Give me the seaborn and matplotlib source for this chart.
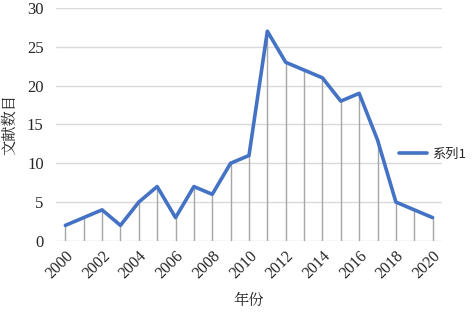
import numpy as np
import pandas as pd
import seaborn as sns
import matplotlib.pyplot as plt

years = list(range(2000, 2021))
counts = [2, 3, 4, 2, 5, 7, 3, 7, 6, 10, 11, 27, 23, 22, 21, 18, 19, 13, 5, 4, 3]
series_name = "系列1"
year_ticks = list(range(2000, 2021, 2))
y_ticks = [0, 5, 10, 15, 20, 25, 30]

df = pd.DataFrame({"年份": years, "文献数目": counts, "系列": series_name})

sns.set_style("white")
plt.rcParams['font.family'] = 'Liberation Serif'

fig = plt.figure(figsize=(4.72, 3.17), dpi=100)
ax = fig.add_axes([0.119, 0.24, 0.817, 0.735])

# drop lines from each point
ax.vlines(df["年份"], 0, df["文献数目"], color="#A6A6A6", linewidth=1.0, zorder=2)
sns.lineplot(data=df, x="年份", y="文献数目", hue="系列", palette=["#4472C4"],
             linewidth=2.6, ax=ax, zorder=3, legend=False)

ax.set_xlim(1999.5, 2020.5)
ax.set_ylim(0, 30)
ax.set_yticks(y_ticks)
ax.set_yticklabels([str(v) for v in y_ticks], fontsize=12)
ax.set_xticks(year_ticks)
ax.set_xticklabels([str(y) for y in year_ticks], rotation=45, ha="right",
                   rotation_mode="anchor", fontsize=11.5)
ax.tick_params(axis="y", length=0, pad=9)
ax.tick_params(axis="x", length=0, pad=5)
ax.grid(axis="y", color="#D9D9D9", linewidth=1.0)
ax.set_axisbelow(True)
for s in ax.spines.values():
    s.set_visible(False)

ax.set_xlabel("年份", fontsize=11, labelpad=8, family="Noto Serif CJK SC")
ax.set_ylabel("文献数目", fontsize=11, labelpad=6, family="Noto Serif CJK SC")

handle = plt.Line2D([], [], color="#4472C4", linewidth=2.6)
fig.legend([handle], [series_name], loc="center left",
           bbox_to_anchor=(0.835, 1 - 154 / 317), frameon=False,
           handlelength=2.1, handletextpad=0.4, borderaxespad=0,
           prop={"family": "Noto Sans CJK SC", "size": 9.5})

fig.savefig("out.png", dpi=100)
